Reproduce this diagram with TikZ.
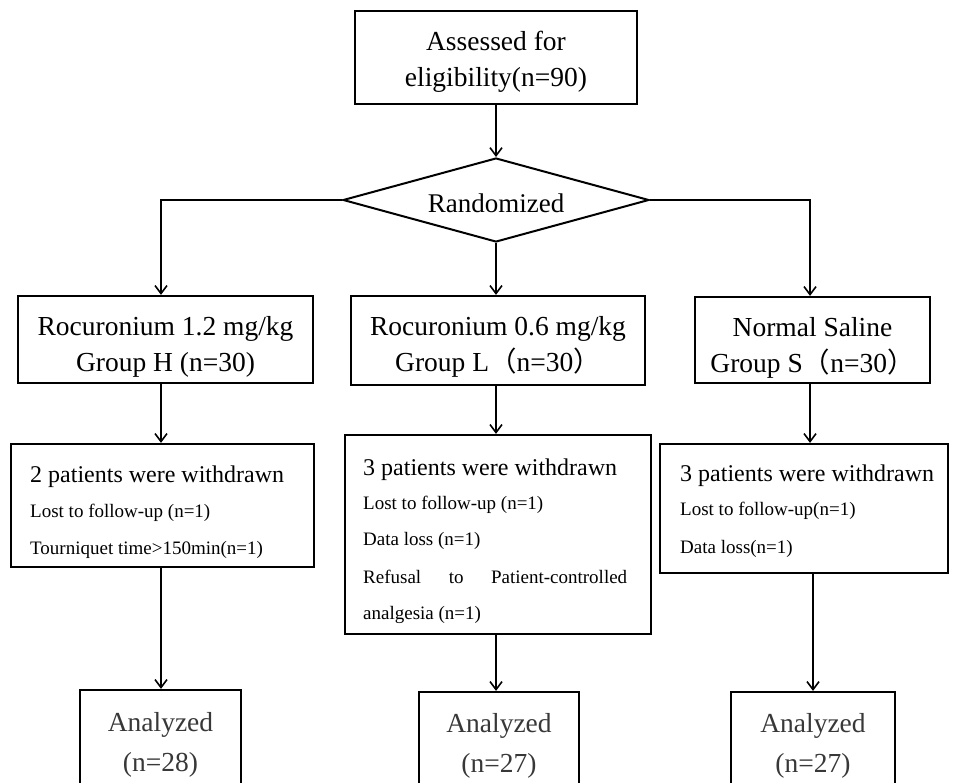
\documentclass[tikz,border=0pt]{standalone}
\usepackage{fontspec}
\setmainfont{Liberation Serif}
\newfontfamily\cjkfont{Noto Sans CJK SC}
\usetikzlibrary{shapes.geometric,arrows.meta,calc}
\newcommand{\flp}{{\cjkfont （}}
\newcommand{\frp}{{\cjkfont ）}}
\begin{document}
\begin{tikzpicture}[x=1pt,y=-1pt,
  box/.style={draw,line width=2.2pt,rectangle,inner sep=0pt},
  arr/.style={line width=1.7pt,-{Straight Barb[length=8pt,width=12pt,line width=1.6pt]}},
  big/.style={font=\fontsize{27.5}{36}\selectfont,align=center,inner sep=0pt},
  anl/.style={font=\fontsize{27.5}{40}\selectfont,text=black!78,align=center,inner sep=0pt},
  head/.style={font=\fontsize{24}{28}\selectfont,anchor=west,inner sep=0pt},
  small/.style={font=\fontsize{19}{22}\selectfont,anchor=west,inner sep=0pt}]
\clip (0,0) rectangle (953,782);
\fill[white] (0,0) rectangle (953,782);

% top
\node[box,minimum width=282pt,minimum height=93pt] (top) at (496,57.5) {};
\node[big] (topt) at ($(top)+(0,4)$) {Assessed for\\eligibility(n=90)};
\node[draw,line width=2pt,diamond,aspect=3.6,inner sep=0pt,minimum width=306pt,minimum height=84pt] (rand) at (496,200) {};
\node[font=\fontsize{27}{30}\selectfont,inner sep=0pt] (randt) at ($(rand)+(0,3)$) {Randomized};

% groups
\node[box,minimum width=295pt,minimum height=87pt] (ga) at (165.5,339.5) {};
\node[big] (gat) at (165.5,347) {Rocuronium 1.2 mg/kg\\Group H (n=30)};
\node[box,minimum width=294pt,minimum height=89pt] (gb) at (498,340.5) {};
\node[big] (gbt) at (498,347) {Rocuronium 0.6 mg/kg\\Group L\flp n=30\frp};
\node[box,minimum width=235pt,minimum height=86pt] (gc) at (812.5,340) {};
\node[big] (gct) at (812.5,348) {Normal Saline\\Group S\flp n=30\frp};

% withdrawn boxes
\node[box,minimum width=303pt,minimum height=123pt] (wa) at (162.5,505.5) {};
\node[box,minimum width=306pt,minimum height=199pt] (wb) at (498,534.5) {};
\node[box,minimum width=288pt,minimum height=129pt] (wc) at (804,508.5) {};

\node[head] (wa1) at (30,477) {2 patients were withdrawn};
\node[small] (wa2) at (30,513) {Lost to follow-up (n=1)};
\node[small] (wa3) at (30,550) {Tourniquet time>150min(n=1)};

\node[head] (wb1) at (363,470) {3 patients were withdrawn};
\node[small] (wb2) at (363,505) {Lost to follow-up (n=1)};
\node[small] (wb3) at (363,541) {Data loss (n=1)};
\node[small] (wb4) at (363,577) {\makebox[264pt][s]{Refusal to Patient-controlled}};
\node[small] (wb5) at (363,615) {analgesia (n=1)};

\node[head] (wc1) at (680,476) {3 patients were withdrawn};
\node[small] (wc2) at (680,511) {Lost to follow-up(n=1)};
\node[small] (wc3) at (680,549) {Data loss(n=1)};

% analyzed
\node[box,minimum width=161pt,minimum height=112pt] (aa) at (160.5,746) {};
\node[anl] (aat) at (160.5,745) {Analyzed\\(n=28)};
\node[box,minimum width=160pt,minimum height=112pt] (ab) at (499,748) {};
\node[anl] (abt) at (499,746) {Analyzed\\(n=27)};
\node[box,minimum width=164pt,minimum height=112pt] (ac) at (813,748) {};
\node[anl] (act) at (813,746) {Analyzed\\(n=27)};

% connectors
\coordinate (jl) at (161,200);
\coordinate (jr) at (810,200);
\draw[arr] (top.south) -- (rand.north);
\draw[arr] (rand.west) -- (jl) -- (jl |- ga.north);
\draw[arr] (rand.east) -- (jr) -- (jr |- gc.north);
\draw[arr] (rand.south) -- (rand.south |- gb.north);
\draw[arr] (jl |- ga.south) -- (jl |- wa.north);
\draw[arr] (rand.south |- gb.south) -- (rand.south |- wb.north);
\draw[arr] (jr |- gc.south) -- (jr |- wc.north);
\draw[arr] (jl |- wa.south) -- (jl |- aa.north);
\draw[arr] (rand.south |- wb.south) -- (rand.south |- ab.north);
\draw[arr] (ac.north |- wc.south) -- (ac.north);
\end{tikzpicture}
\end{document}
